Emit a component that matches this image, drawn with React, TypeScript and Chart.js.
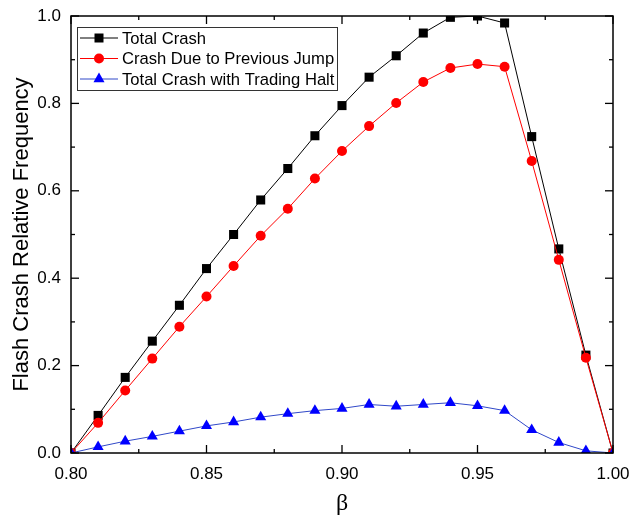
import React, { useEffect, useRef } from 'react';
import { Chart, registerables } from 'chart.js';

Chart.register(...registerables);

const betaValues = [0.80, 0.81, 0.82, 0.83, 0.84, 0.85, 0.86, 0.87, 0.88, 0.89, 0.90, 0.91, 0.92, 0.93, 0.94, 0.95, 0.96, 0.97, 0.98, 0.99, 1.00];
const totalCrash = [0, 0.086, 0.173, 0.256, 0.338, 0.422, 0.500, 0.579, 0.651, 0.726, 0.795, 0.860, 0.909, 0.961, 0.997, 1.0, 0.984, 0.724, 0.467, 0.224, 0];
const crashJump = [0, 0.069, 0.143, 0.216, 0.289, 0.358, 0.428, 0.497, 0.559, 0.628, 0.691, 0.748, 0.801, 0.849, 0.881, 0.890, 0.884, 0.668, 0.442, 0.218, 0];
const tradingHalt = [0, 0.014, 0.027, 0.038, 0.050, 0.062, 0.071, 0.082, 0.090, 0.097, 0.102, 0.111, 0.107, 0.111, 0.115, 0.108, 0.097, 0.053, 0.024, 0.005, 0];

const seriesLabels = ['Total Crash', 'Crash Due to Previous Jump', 'Total Crash with Trading Halt'];
const seriesColors = ['#000000', '#ff0000', '#0000ff'];
const lineColors = ['#000000', '#ff0000', '#3048c8'];
const seriesStyles = ['rect', 'circle', 'triangle'];
const xMajorTicks = [0.80, 0.85, 0.90, 0.95, 1.00];
const xMinorTicks = [0.825, 0.875, 0.925, 0.975];
const yMajorTicks = [0, 0.2, 0.4, 0.6, 0.8, 1.0];
const yMinorTicks = [0.1, 0.3, 0.5, 0.7, 0.9];

const SANS = "'Liberation Sans', Arial, sans-serif";

function drawMarker(ctx: CanvasRenderingContext2D, style: string, x: number, y: number, color: string) {
  ctx.save();
  ctx.fillStyle = color;
  ctx.beginPath();
  if (style === 'rect') {
    const s = 4.5;
    ctx.rect(x - s, y - s, 2 * s, 2 * s);
  } else if (style === 'circle') {
    ctx.arc(x, y, 5, 0, Math.PI * 2);
  } else {
    const r = 6.4;
    ctx.moveTo(x, y - r);
    ctx.lineTo(x + r * Math.sin((2 * Math.PI) / 3), y - r * Math.cos((2 * Math.PI) / 3));
    ctx.lineTo(x + r * Math.sin((4 * Math.PI) / 3), y - r * Math.cos((4 * Math.PI) / 3));
    ctx.closePath();
  }
  ctx.fill();
  ctx.restore();
}

const framePlugin = {
  id: 'frame',
  afterDraw(chart: any) {
    const { ctx, chartArea } = chart;
    const xs = chart.scales.x;
    const ys = chart.scales.y;
    const { left, right, top, bottom } = chartArea;
    ctx.save();
    ctx.strokeStyle = '#000';
    ctx.lineWidth = 1.5;
    ctx.strokeRect(left, top, right - left, bottom - top);
    ctx.lineWidth = 1.3;
    const tick = (x1: number, y1: number, x2: number, y2: number) => {
      ctx.beginPath();
      ctx.moveTo(x1, y1);
      ctx.lineTo(x2, y2);
      ctx.stroke();
    };
    const major = 8;
    const minor = 4;
    xMajorTicks.forEach((v) => {
      const p = xs.getPixelForValue(v);
      tick(p, bottom, p, bottom - major);
      tick(p, top, p, top + major);
    });
    xMinorTicks.forEach((v) => {
      const p = xs.getPixelForValue(v);
      tick(p, bottom, p, bottom - minor);
      tick(p, top, p, top + minor);
    });
    yMajorTicks.forEach((v) => {
      const p = ys.getPixelForValue(v);
      tick(left, p, left + major, p);
      tick(right, p, right - major, p);
    });
    yMinorTicks.forEach((v) => {
      const p = ys.getPixelForValue(v);
      tick(left, p, left + minor, p);
      tick(right, p, right - minor, p);
    });
    ctx.restore();
  },
};

const legendPlugin = {
  id: 'boxLegend',
  afterDraw(chart: any) {
    const { ctx, chartArea } = chart;
    const bx = chartArea.left + 6;
    const by = chartArea.top + 11;
    const bw = 260;
    const bh = 63;
    ctx.save();
    ctx.fillStyle = '#fff';
    ctx.fillRect(bx, by, bw, bh);
    ctx.strokeStyle = '#333';
    ctx.lineWidth = 1;
    ctx.strokeRect(bx + 0.5, by + 0.5, bw, bh);
    ctx.font = `16.6px ${SANS}`;
    ctx.textBaseline = 'middle';
    ctx.textAlign = 'left';
    chart.data.datasets.forEach((ds: any, i: number) => {
      const ry = by + 11 + i * 20.5;
      ctx.strokeStyle = lineColors[i];
      ctx.lineWidth = 1;
      ctx.beginPath();
      ctx.moveTo(bx + 3, ry);
      ctx.lineTo(bx + 41, ry);
      ctx.stroke();
      drawMarker(ctx, seriesStyles[i], bx + 22, ry, seriesColors[i]);
      ctx.fillStyle = '#000';
      ctx.fillText(ds.label, bx + 45, ry + 1);
    });
    ctx.restore();
  },
};

export default function App() {
  const ref = useRef<HTMLCanvasElement>(null);
  useEffect(() => {
    const canvas = ref.current;
    if (!canvas) return;
    const seriesData = [totalCrash, crashJump, tradingHalt];
    const radii = [6.4, 5, 6.4];
    const chart = new Chart(canvas, {
      type: 'line',
      data: {
        datasets: seriesData.map((vals, i) => ({
          label: seriesLabels[i],
          data: betaValues.map((b, j) => ({ x: b, y: vals[j] })),
          borderColor: lineColors[i],
          backgroundColor: seriesColors[i],
          pointBackgroundColor: seriesColors[i],
          borderWidth: 1,
          pointStyle: seriesStyles[i] as any,
          pointRadius: radii[i],
          pointBorderWidth: 0,
          tension: 0,
          order: 3 - i,
        })),
      },
      options: {
        responsive: false,
        animation: false,
        devicePixelRatio: 1,
        layout: { padding: { top: 16, right: 21, left: 0, bottom: 0 } },
        plugins: { legend: { display: false }, tooltip: { enabled: false } },
        scales: {
          x: {
            type: 'linear',
            min: 0.8,
            max: 1.0,
            grid: { display: false, drawTicks: false },
            border: { display: false },
            ticks: {
              stepSize: 0.05,
              callback: (v: any) => Number(v).toFixed(2),
              font: { family: SANS, size: 17 },
              color: '#000',
              padding: 11,
              maxRotation: 0,
              autoSkip: false,
            },
            title: {
              display: true,
              text: 'β',
              font: { family: "'Liberation Serif', 'Times New Roman', serif", size: 24 },
              color: '#000',
              padding: { top: 0, bottom: 6 },
            },
            afterFit: (s: any) => {
              s.height = 71;
              s.paddingLeft = 0;
              s.paddingRight = 0;
            },
          },
          y: {
            type: 'linear',
            min: 0,
            max: 1,
            grid: { display: false, drawTicks: false },
            border: { display: false },
            ticks: {
              stepSize: 0.2,
              callback: (v: any) => Number(v).toFixed(1),
              font: { family: SANS, size: 17 },
              color: '#000',
              padding: 10,
            },
            title: {
              display: true,
              text: 'Flash Crash Relative Frequency',
              font: { family: SANS, size: 22 },
              color: '#000',
              padding: { top: 9, bottom: 0 },
            },
            afterFit: (s: any) => {
              s.width = 71;
              s.paddingTop = 0;
              s.paddingBottom = 0;
            },
          },
        },
      },
      plugins: [framePlugin, legendPlugin],
    });
    return () => chart.destroy();
  }, []);
  return (
    <div style={{ position: 'absolute', left: 0, top: 0, width: 634, height: 524, background: '#fff' }}>
      <canvas ref={ref} width={634} height={524} />
    </div>
  );
}
